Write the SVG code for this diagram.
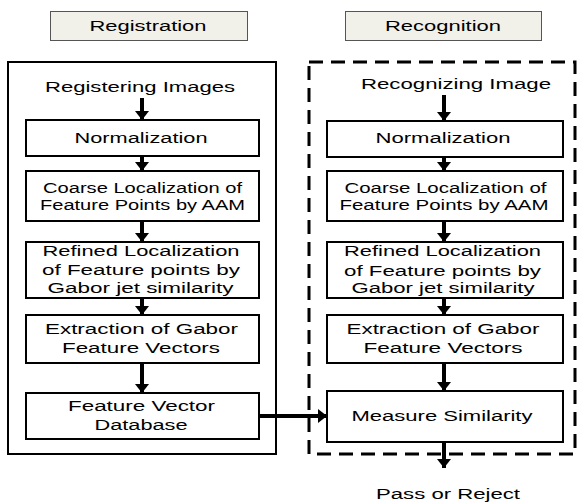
<svg xmlns="http://www.w3.org/2000/svg" width="577" height="503" viewBox="0 0 577 503">
<defs>
<style>
text{font-family:"Liberation Sans",Arial,sans-serif;font-size:15.5px;fill:#000;text-anchor:middle}
.box{fill:#fff;stroke:#000;stroke-width:2}
.hdr{fill:#f1f1ea;stroke:#555;stroke-width:1}
.outer{fill:none;stroke:#000;stroke-width:2}
.dash{fill:none;stroke:#000;stroke-width:3;stroke-dasharray:14 8}
.arr{fill:none;stroke:#000;stroke-width:4;marker-end:url(#ah)}
.sm{font-size:14px}
</style>
<marker id="ah" markerUnits="userSpaceOnUse" markerWidth="10" markerHeight="14" refX="9" refY="7" orient="auto">
<path d="M0,0 L9,7 L0,14 Z" fill="#000"/>
</marker>
</defs>
<rect width="577" height="503" fill="#fff"/>

<g id="registration-header">
<rect class="hdr" x="50.5" y="11.5" width="197" height="29"/>
<text x="148" y="31" textLength="117" lengthAdjust="spacingAndGlyphs">Registration</text>
</g>
<g id="recognition-header">
<rect class="hdr" x="345.5" y="11.5" width="196" height="29"/>
<text x="443" y="31" textLength="116" lengthAdjust="spacingAndGlyphs">Recognition</text>
</g>

<g id="registration-frame"><rect class="outer" x="8" y="62" width="268" height="392"/></g>
<g id="recognition-frame"><rect class="dash" x="309" y="62" width="266" height="392"/></g>

<g id="registering-images"><text x="140" y="91.5" textLength="190" lengthAdjust="spacingAndGlyphs">Registering Images</text></g>
<g id="reg-normalization">
<rect class="box" x="26" y="120" width="233" height="36"/>
<text x="141" y="142.7" textLength="133" lengthAdjust="spacingAndGlyphs">Normalization</text>
</g>
<g id="reg-coarse">
<rect class="box" x="26" y="171" width="233" height="50"/>
<text class="sm" x="142.5" y="192.7" textLength="199" lengthAdjust="spacingAndGlyphs">Coarse Localization of</text>
<text class="sm" x="142.5" y="209.5" textLength="205" lengthAdjust="spacingAndGlyphs">Feature Points by AAM</text>
</g>
<g id="reg-refined">
<rect class="box" x="26" y="242" width="233" height="56"/>
<text x="141" y="256" textLength="197" lengthAdjust="spacingAndGlyphs">Refined Localization</text>
<text x="141" y="275" textLength="198" lengthAdjust="spacingAndGlyphs">of Feature points by</text>
<text x="140.5" y="293" textLength="186" lengthAdjust="spacingAndGlyphs">Gabor jet similarity</text>
</g>
<g id="reg-extraction">
<rect class="box" x="26" y="315" width="233" height="48"/>
<text x="141.5" y="334.3" textLength="193" lengthAdjust="spacingAndGlyphs">Extraction of Gabor</text>
<text x="141" y="353.3" textLength="158" lengthAdjust="spacingAndGlyphs">Feature Vectors</text>
</g>
<g id="reg-database">
<rect class="box" x="26" y="393" width="233" height="46"/>
<text x="141.5" y="411" textLength="147" lengthAdjust="spacingAndGlyphs">Feature Vector</text>
<text x="141" y="430" textLength="93" lengthAdjust="spacingAndGlyphs">Database</text>
</g>

<g id="recognizing-image"><text x="456" y="88.5" textLength="190" lengthAdjust="spacingAndGlyphs">Recognizing Image</text></g>
<g id="rec-normalization">
<rect class="box" x="327" y="121" width="236" height="36"/>
<text x="443" y="142.7" textLength="135" lengthAdjust="spacingAndGlyphs">Normalization</text>
</g>
<g id="rec-coarse">
<rect class="box" x="327" y="171" width="236" height="50"/>
<text class="sm" x="445.5" y="192.7" textLength="202" lengthAdjust="spacingAndGlyphs">Coarse Localization of</text>
<text class="sm" x="444" y="210" textLength="209" lengthAdjust="spacingAndGlyphs">Feature Points by AAM</text>
</g>
<g id="rec-refined">
<rect class="box" x="327" y="242" width="236" height="56"/>
<text x="442.5" y="256" textLength="197" lengthAdjust="spacingAndGlyphs">Refined Localization</text>
<text x="442.5" y="276" textLength="197" lengthAdjust="spacingAndGlyphs">of Feature points by</text>
<text x="443" y="293" textLength="183" lengthAdjust="spacingAndGlyphs">Gabor jet similarity</text>
</g>
<g id="rec-extraction">
<rect class="box" x="327" y="315" width="236" height="48"/>
<text x="443" y="334.3" textLength="193" lengthAdjust="spacingAndGlyphs">Extraction of Gabor</text>
<text x="443" y="353.3" textLength="159" lengthAdjust="spacingAndGlyphs">Feature Vectors</text>
</g>
<g id="rec-measure">
<rect class="box" x="327" y="391" width="236" height="51"/>
<text x="442" y="420.7" textLength="181" lengthAdjust="spacingAndGlyphs">Measure Similarity</text>
</g>
<g id="pass-or-reject"><text x="448" y="499" textLength="144" lengthAdjust="spacingAndGlyphs">Pass or Reject</text></g>

<g id="connectors">
<path class="arr" d="M142,98 V120"/>
<path class="arr" d="M142,156 V171"/>
<path class="arr" d="M142,221 V242"/>
<path class="arr" d="M142,298 V315"/>
<path class="arr" d="M142,363 V393"/>
<path class="arr" d="M444,95 V121"/>
<path class="arr" d="M444,157 V171"/>
<path class="arr" d="M444,221 V242"/>
<path class="arr" d="M444,298 V315"/>
<path class="arr" d="M444,363 V391"/>
<path class="arr" d="M444,442 V468"/>
<path class="arr" d="M259,416 H327"/>
</g>
</svg>
